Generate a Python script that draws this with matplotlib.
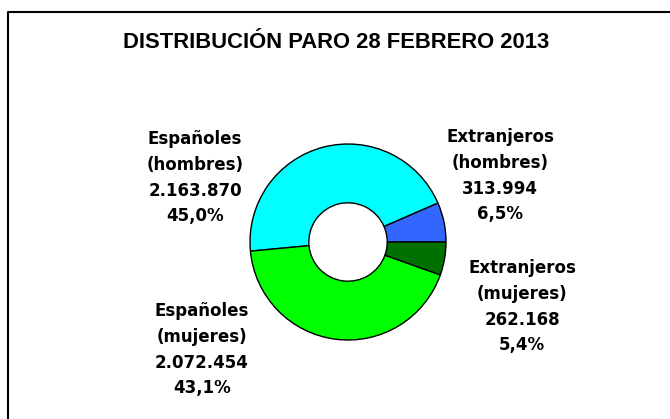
import matplotlib
matplotlib.use("Agg")
import matplotlib.pyplot as plt
from matplotlib.lines import Line2D

plt.rcParams['font.family'] = ['Liberation Sans', 'DejaVu Sans']

title = "DISTRIBUCIÓN PARO 28 FEBRERO 2013"
# order follows the pie counter-clockwise from 0 degrees
labels = ["Extranjeros\n(hombres)", "Españoles\n(hombres)", "Españoles\n(mujeres)", "Extranjeros\n(mujeres)"]
values = [313994, 2163870, 2072454, 262168]
value_text = ["313.994", "2.163.870", "2.072.454", "262.168"]
pct_text = ["6,5%", "45,0%", "43,1%", "5,4%"]
colors = ["#3366ff", "#00ffff", "#00ff00", "#007000"]

W, H = 670, 419
fig = plt.figure(figsize=(W / 100, H / 100), dpi=100)

# frame (only top and left edges fall inside the image)
fig.add_artist(Line2D([8 / W, 8 / W, 1.0], [0.0, 1 - 12 / H, 1 - 12 / H],
                      transform=fig.transFigure, color="black", lw=1.5))

fig.text(336 / W, 1 - 47.7 / H, title, ha="center", va="baseline",
         fontsize=15.8, fontweight="bold")

cx, cy, r = 348, 242, 98
ax = fig.add_axes([(cx - r) / W, (H - cy - r) / H, 2 * r / W, 2 * r / H])
ax.pie(values, colors=colors, startangle=0, counterclock=True, radius=1,
       wedgeprops=dict(width=0.6, edgecolor="black", linewidth=1))
ax.set_xlim(-1, 1)
ax.set_ylim(-1, 1)
ax.axis("off")

# label anchor in pixels: centre x, baseline of first line
label_pos = [(500, 142), (195, 144), (202, 316), (522, 273)]
step = 25.8
for lab, vt, pt, (px, py) in zip(labels, value_text, pct_text, label_pos):
    lines = lab.split("\n") + [vt, pt]
    for i, s in enumerate(lines):
        fig.text(px / W, 1 - (py + i * step) / H, s, ha="center", va="baseline",
                 fontsize=12, fontweight="bold", family="DejaVu Sans")

fig.savefig("out.png", dpi=100)
